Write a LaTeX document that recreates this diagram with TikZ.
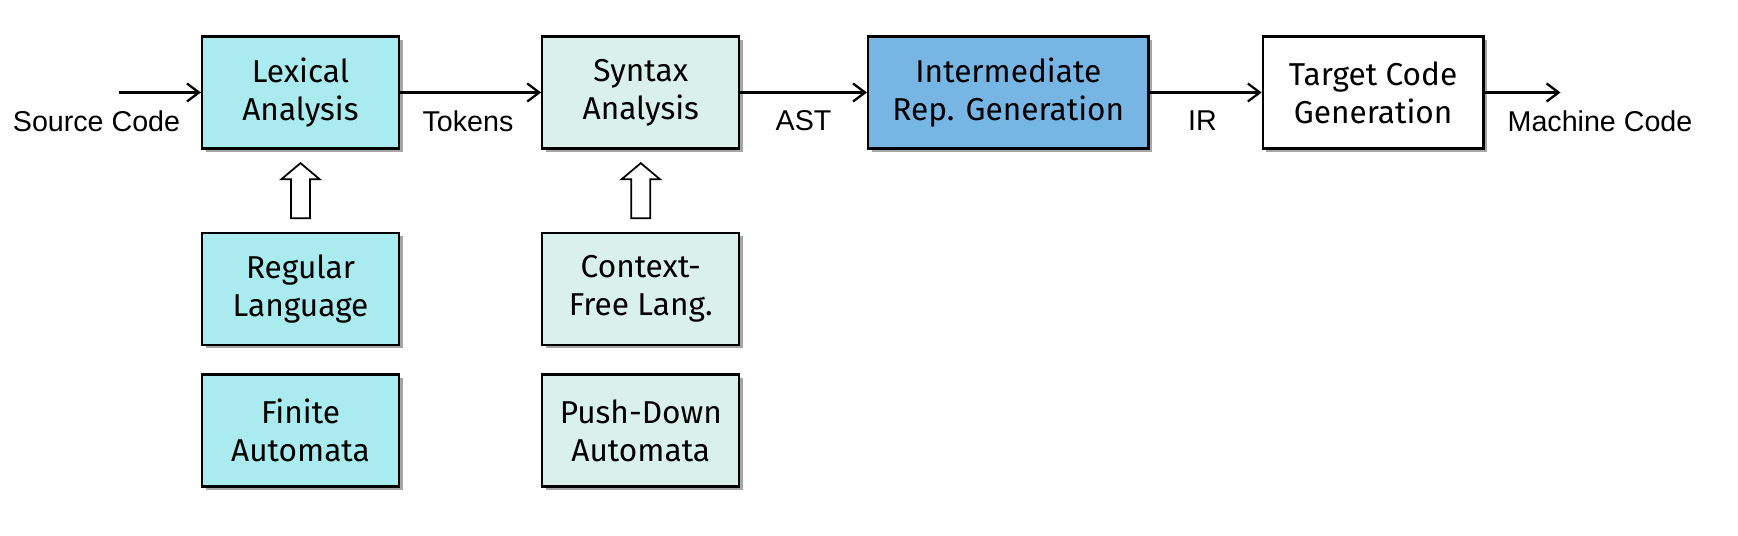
\documentclass[tikz,border=0pt]{standalone}
\usepackage{fontspec}
\setmainfont{Liberation Sans}
\newfontfamily\boxfont{Fira Sans}
\usetikzlibrary{positioning,shadows,arrows.meta}

\definecolor{lexcyan}{RGB}{169,235,238}
\definecolor{synmint}{RGB}{218,240,234}
\definecolor{irblue}{RGB}{119,181,228}

\tikzset{
  stagebox/.style={draw=black, line width=1.3pt, minimum width=3.94cm, minimum height=2.24cm,
    align=center, font=\boxfont\fontsize{18}{21.5}\selectfont,
    drop shadow={shadow xshift=2pt, shadow yshift=-2pt, opacity=0.7}},
  lexbox/.style={stagebox, fill=lexcyan},
  synbox/.style={stagebox, fill=synmint},
  flow/.style={line width=1.3pt, -{Straight Barb[length=2.4mm,width=3.6mm]}},
  flowlabel/.style={font=\fontsize{16.3}{19}\selectfont, inner sep=0pt},
  hollow/.style={draw=black, line width=1pt, fill=white}
}

\begin{document}
\begin{tikzpicture}
    \useasboundingbox (0,0) rectangle (34.76,-10.72);

    % main pipeline
    \node[lexbox] (lex) at (6.01,-1.85) {Lexical\\Analysis};
    \node[synbox, right=2.82cm of lex] (syn) {Syntax\\Analysis};
    \node[stagebox, fill=irblue, minimum width=5.61cm, right=2.53cm of syn] (irgen) {Intermediate\\Rep. Generation};
    \node[stagebox, fill=white, minimum width=4.41cm, right=2.24cm of irgen] (tgt) {Target Code\\Generation};

    % theory behind the front end
    \node[lexbox, below=1.64cm of lex] (reg) {Regular\\Language};
    \node[lexbox, below=0.55cm of reg] (fa) {Finite\\Automata};
    \node[synbox, below=1.64cm of syn] (cfl) {Context-\\Free Lang.};
    \node[synbox, below=0.55cm of cfl] (pda) {Push-Down\\Automata};

    \coordinate (in) at (2.37,-1.85);
    \coordinate (out) at (31.21,-1.85);

    \draw[flow] (in) -- (lex);
    \draw[flow] (lex) -- (syn);
    \draw[flow] (syn) -- (irgen);
    \draw[flow] (irgen) -- (tgt);
    \draw[flow] (tgt) -- (out);

    \node[flowlabel] (srclbl) at (1.93,-2.42) {Source Code};
    \node[flowlabel] (toklbl) at (9.36,-2.42) {Tokens};
    \node[flowlabel] (astlbl) at (16.07,-2.42) {AST};
    \node[flowlabel] (irlbl) at (24.05,-2.42) {IR};
    \node[flowlabel] (mclbl) at (32.00,-2.42) {Machine Code};

    % hollow arrows
    \foreach \lo/\hi in {reg/lex, cfl/syn} {
      \path (\hi.south) -- (\lo.north) coordinate[midway] (m-\lo);
      \draw[hollow, shift={(m-\lo)}] (-0.19,-0.55) -- (-0.19,0.23) -- (-0.38,0.23) -- (0,0.55)
        -- (0.38,0.23) -- (0.19,0.23) -- (0.19,-0.55) -- cycle;
    }
\end{tikzpicture}
\end{document}
